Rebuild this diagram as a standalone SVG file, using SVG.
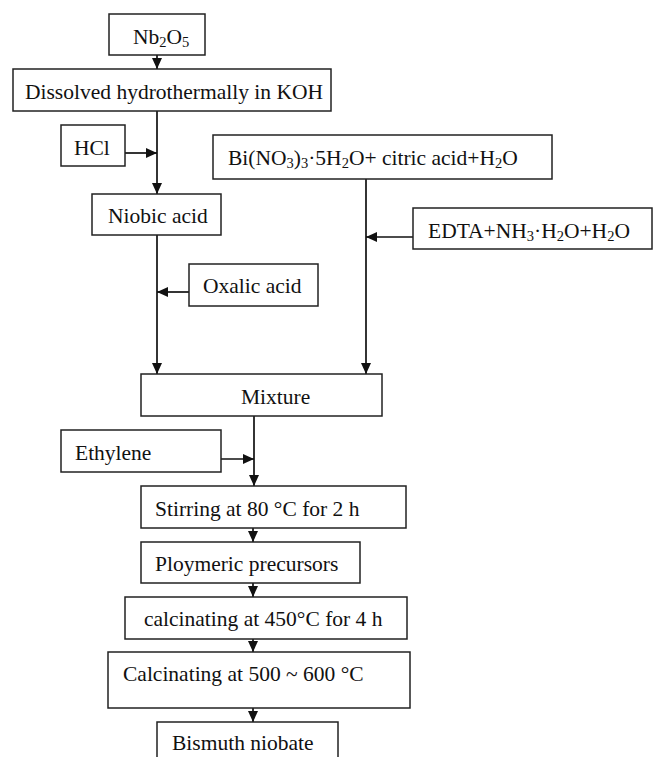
<svg xmlns="http://www.w3.org/2000/svg" width="653" height="757" viewBox="0 0 653 757">
<style>
.box{fill:#fff;stroke:#222;stroke-width:1.5}
.t{font-family:"Liberation Serif","Times New Roman",serif;font-size:21.5px;fill:#111}
.s{font-size:14.5px}
.c{fill:none;stroke:#111;stroke-width:1.7}
</style>
<defs>
<marker id="ah" viewBox="0 0 11 10" refX="11" refY="5" markerWidth="11" markerHeight="10" markerUnits="userSpaceOnUse" orient="auto">
<path d="M0,0 L11,5 L0,10 Z" fill="#111"/>
</marker>
</defs>
<rect width="653" height="757" fill="#fff"/>
<g id="connectors">
<line class="c" x1="157" y1="55" x2="157" y2="69" marker-end="url(#ah)"/>
<line class="c" x1="157" y1="111" x2="157" y2="194" marker-end="url(#ah)"/>
<line class="c" x1="125" y1="153" x2="157" y2="153" marker-end="url(#ah)"/>
<line class="c" x1="157" y1="235" x2="157" y2="374" marker-end="url(#ah)"/>
<line class="c" x1="189" y1="292" x2="157" y2="292" marker-end="url(#ah)"/>
<line class="c" x1="366" y1="179" x2="366" y2="374" marker-end="url(#ah)"/>
<line class="c" x1="413" y1="237" x2="366" y2="237" marker-end="url(#ah)"/>
<line class="c" x1="254" y1="416" x2="254" y2="486" marker-end="url(#ah)"/>
<line class="c" x1="221" y1="459" x2="254" y2="459" marker-end="url(#ah)"/>
<line class="c" x1="253" y1="528" x2="253" y2="542" marker-end="url(#ah)"/>
<line class="c" x1="253" y1="583" x2="253" y2="597" marker-end="url(#ah)"/>
<line class="c" x1="253" y1="639" x2="253" y2="652" marker-end="url(#ah)"/>
<line class="c" x1="253" y1="708" x2="253" y2="722" marker-end="url(#ah)"/>
</g>
<g id="nb2o5">
<rect class="box" x="109" y="14" width="96" height="41"/>
<text class="t" x="133" y="44">Nb<tspan class="s" dy="3">2</tspan><tspan dy="-3">O</tspan><tspan class="s" dy="3">5</tspan></text>
</g>
<g id="dissolved">
<rect class="box" x="13" y="69" width="318" height="42"/>
<text class="t" x="25" y="99">Dissolved hydrothermally in KOH</text>
</g>
<g id="hcl">
<rect class="box" x="61" y="125" width="64" height="41"/>
<text class="t" x="74" y="155">HCl</text>
</g>
<g id="bi">
<rect class="box" x="213" y="135" width="339" height="44"/>
<text class="t" x="228" y="165">Bi(NO<tspan class="s" dy="3">3</tspan><tspan dy="-3">)</tspan><tspan class="s" dy="3">3</tspan><tspan dy="-3">·5H</tspan><tspan class="s" dy="3">2</tspan><tspan dy="-3">O+ citric acid+H</tspan><tspan class="s" dy="3">2</tspan><tspan dy="-3">O</tspan></text>
</g>
<g id="edta">
<rect class="box" x="413" y="208" width="239" height="41"/>
<text class="t" x="428" y="238">EDTA+NH<tspan class="s" dy="3">3</tspan><tspan dy="-3">·H</tspan><tspan class="s" dy="3">2</tspan><tspan dy="-3">O+H</tspan><tspan class="s" dy="3">2</tspan><tspan dy="-3">O</tspan></text>
</g>
<g id="niobic">
<rect class="box" x="92" y="194" width="129" height="41"/>
<text class="t" x="108" y="223">Niobic acid</text>
</g>
<g id="oxalic">
<rect class="box" x="189" y="264" width="129" height="42"/>
<text class="t" x="203" y="293">Oxalic acid</text>
</g>
<g id="mixture">
<rect class="box" x="141" y="374" width="241" height="42"/>
<text class="t" x="241" y="404">Mixture</text>
</g>
<g id="ethylene">
<rect class="box" x="61" y="430" width="160" height="42"/>
<text class="t" x="75" y="460">Ethylene</text>
</g>
<g id="stirring">
<rect class="box" x="141" y="486" width="265" height="42"/>
<text class="t" x="155" y="516">Stirring at 80 °C for 2 h</text>
</g>
<g id="ploymeric">
<rect class="box" x="141" y="542" width="219" height="41"/>
<text class="t" x="155" y="571">Ploymeric precursors</text>
</g>
<g id="calc450">
<rect class="box" x="125" y="597" width="282" height="42"/>
<text class="t" x="144" y="626">calcinating at 450°C for 4 h</text>
</g>
<g id="calc500">
<rect class="box" x="108" y="652" width="302" height="56"/>
<text class="t" x="123" y="681">Calcinating at 500 ~ 600 °C</text>
</g>
<g id="bismuth">
<rect class="box" x="157" y="722" width="181" height="45"/>
<text class="t" x="172" y="750">Bismuth niobate</text>
</g>
</svg>
